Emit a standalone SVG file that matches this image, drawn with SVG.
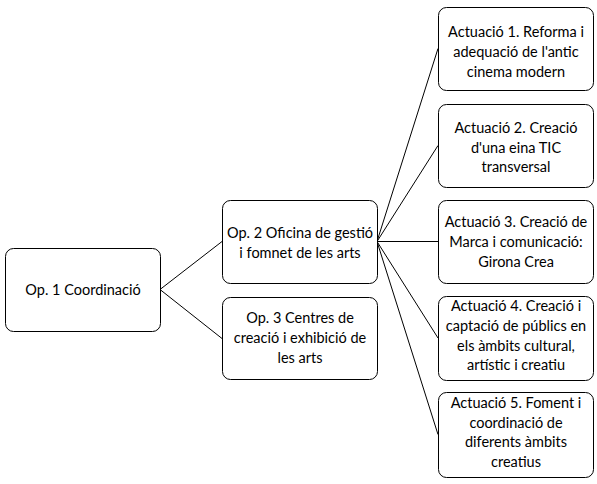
<svg xmlns="http://www.w3.org/2000/svg" width="597" height="484" viewBox="0 0 597 484">
<style>
.box{fill:#fff;stroke:#000;stroke-width:1}
.t{font-family:Lato,"Liberation Sans",sans-serif;font-size:14.5px;fill:#000;text-anchor:middle}
.c{stroke:#000;stroke-width:1;fill:none}
</style>
<rect width="597" height="484" fill="#fff"/>
<g id="connectors">
<line class="c" x1="160" y1="289.5" x2="222" y2="241.5"/>
<line class="c" x1="160" y1="289.5" x2="222" y2="338.5"/>
<line class="c" x1="377" y1="241.5" x2="438" y2="48.5"/>
<line class="c" x1="377" y1="241.5" x2="438" y2="145.5"/>
<line class="c" x1="377" y1="241.5" x2="438" y2="241.5"/>
<line class="c" x1="377" y1="241.5" x2="438" y2="338"/>
<line class="c" x1="377" y1="241.5" x2="438" y2="434.5"/>
</g>
<g id="op1">
<rect class="box" x="5.5" y="248.5" width="155" height="83" rx="8"/>
<text class="t" x="83" y="295">Op. 1 Coordinació</text>
</g>
<g id="op2">
<rect class="box" x="222.5" y="200.5" width="155" height="83" rx="8"/>
<text class="t" x="300" y="238">Op. 2 Oficina de gestió</text>
<text class="t" x="300" y="258">i fomnet de les arts</text>
</g>
<g id="op3">
<rect class="box" x="222.5" y="297.5" width="155" height="82" rx="8"/>
<text class="t" x="300" y="323">Op. 3 Centres de</text>
<text class="t" x="300" y="343">creació i exhibició de</text>
<text class="t" x="300" y="363">les arts</text>
</g>
<g id="a1">
<rect class="box" x="438.5" y="7.5" width="155" height="83" rx="8"/>
<text class="t" x="516" y="37">Actuació 1. Reforma i</text>
<text class="t" x="516" y="57">adequació de l'antic</text>
<text class="t" x="516" y="77">cinema modern</text>
</g>
<g id="a2">
<rect class="box" x="438.5" y="104.5" width="155" height="83" rx="8"/>
<text class="t" x="516" y="133">Actuació 2. Creació</text>
<text class="t" x="516" y="153">d'una eina TIC</text>
<text class="t" x="516" y="172">transversal</text>
</g>
<g id="a3">
<rect class="box" x="438.5" y="200.5" width="155" height="83" rx="8"/>
<text class="t" x="516" y="227">Actuació 3. Creació de</text>
<text class="t" x="516" y="247">Marca i comunicació:</text>
<text class="t" x="516" y="267">Girona Crea</text>
</g>
<g id="a4">
<rect class="box" x="438.5" y="296.5" width="155" height="84" rx="8"/>
<text class="t" x="516" y="311">Actuació 4. Creació i</text>
<text class="t" x="516" y="331">captació de públics en</text>
<text class="t" x="516" y="351">els àmbits cultural,</text>
<text class="t" x="516" y="370">artístic i creatiu</text>
</g>
<g id="a5">
<rect class="box" x="438.5" y="392.5" width="155" height="85" rx="8"/>
<text class="t" x="516" y="408">Actuació 5. Foment i</text>
<text class="t" x="516" y="428">coordinació de</text>
<text class="t" x="516" y="447">diferents àmbits</text>
<text class="t" x="516" y="467">creatius</text>
</g>
</svg>
